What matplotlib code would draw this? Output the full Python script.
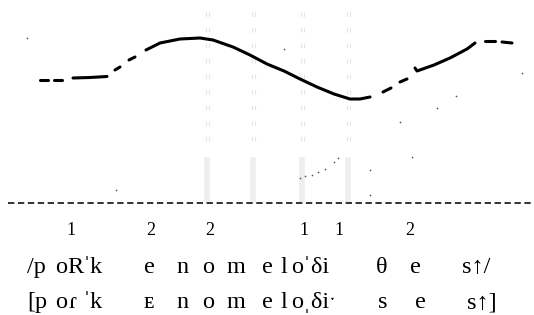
import matplotlib
matplotlib.use("Agg")
from matplotlib import pyplot as plt

# pitch contour pieces (time, pitch) in picture units
contour_t = [
  [40, 48],
  [54, 62],
  [73, 90, 107],
  [115, 120],
  [129, 135],
  [146, 160, 180, 200, 213, 233, 250, 267, 284, 300, 317, 334, 350, 360, 370],
  [383, 391],
  [400, 407],
  [415, 417, 434, 450, 467, 475],
  [485, 495],
  [502, 512],
]
contour_f = [
  [80, 80],
  [80, 80],
  [78, 77.5, 76.5],
  [70, 67],
  [60, 57],
  [50, 43, 39, 38, 40, 47, 55, 64, 71, 79, 87, 94, 99, 99, 97],
  [92, 88],
  [82, 79],
  [68, 71, 65, 58, 49, 43],
  [41, 41],
  [42, 43],
]

# syllable boundaries (faint vertical guides)
boundaries = [207, 253, 302, 348]

# stray specks of the scan
speck_t = [27, 116, 284, 300, 305, 312, 318, 325, 334, 338, 400, 412, 437, 456, 370, 370, 522]
speck_f = [38, 190, 49, 178, 176, 175, 172, 169, 162, 158, 122, 157, 108, 96, 195, 170, 73]

# tone numbers and transcriptions
tones = ["1", "2", "2", "1", "1", "2"]
tone_x = [71, 151, 210, 304, 339, 410]

phonemic = ["/p", "o", "R", "ˈk", "e", "n", "o", "m", "e", "l", "oˈδi", "θ", "e", "s↑/"]
phonemic_x = [27, 55, 67, 83, 144, 176, 202, 227, 262, 281, 291, 376, 410, 462]

phonetic = ["[p", "o", "ɾ", "ˈk", "ᴇ", "n", "o", "m", "e", "l", "oˌδiˑ", "s", "e", "s↑]"]
phonetic_x = [27, 55, 69, 83, 144, 176, 202, 227, 262, 281, 291, 378, 415, 467]

W, H = 534, 315
fig = plt.figure(figsize=(W / 100, H / 100), dpi=100)
ax = fig.add_axes([0, 0, 1, 1])
ax.set_xlim(0, W)
ax.set_ylim(H, 0)
ax.axis("off")

# faint guides: little double ticks up top, a pale band lower down
for b in boundaries:
  for dx in (-1.5, 1.5):
    ax.plot([b + dx, b + dx], [12, 152], color="#e4e4e4", lw=0.8, ls=(0, (4, 10)), zorder=1)
  ax.plot([b, b], [160, 200], color="#eeeeee", lw=4, zorder=1)

ax.scatter(speck_t, speck_f, s=1.5, color="#555555", zorder=2, linewidths=0)

for t, f in zip(contour_t, contour_f):
  ax.plot(t, f, color="black", lw=2.2, solid_capstyle="round", zorder=3)

# dashed baseline
ax.plot([8, W], [203, 203], color="#222222", lw=1.3, ls=(0, (3.5, 2)), zorder=2)

serif = ["Liberation Serif", "DejaVu Serif"]
for s, x in zip(tones, tone_x):
  ax.text(x, 235, s, family=serif, fontsize=13, ha="center", va="baseline")
for s, x in zip(phonemic, phonemic_x):
  ax.text(x, 273, s, family=serif, fontsize=17.5, ha="left", va="baseline")
for s, x in zip(phonetic, phonetic_x):
  ax.text(x, 308, s, family=serif, fontsize=17.5, ha="left", va="baseline")

fig.savefig("out.png", dpi=100)
